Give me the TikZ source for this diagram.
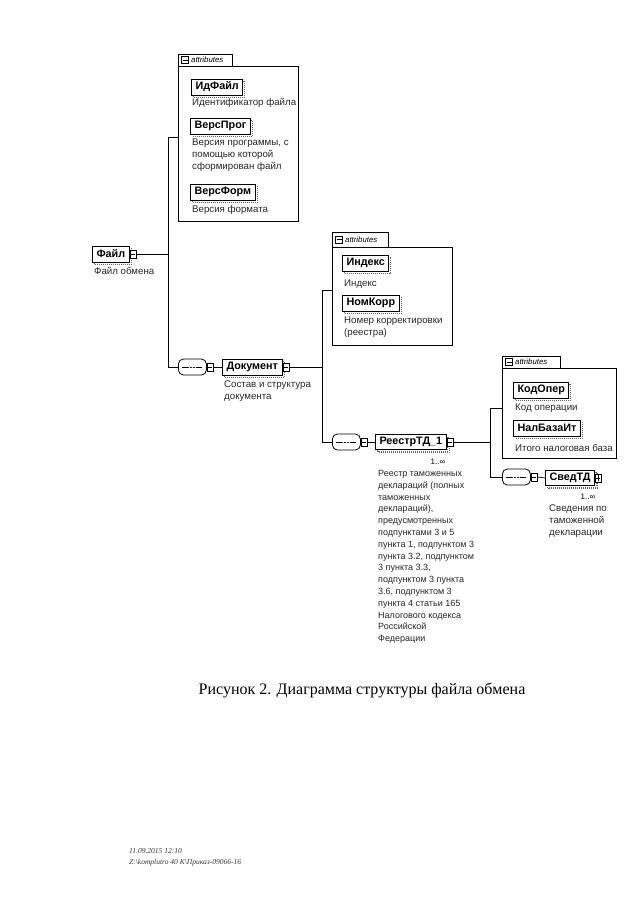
\documentclass[tikz,border=0pt]{standalone}
\usepackage{fontspec}
\setmainfont{Liberation Serif}
\setsansfont{Liberation Sans}
\usetikzlibrary{shadows}
\tikzset{
  lbl/.style={font=\sffamily\fontsize{9.7}{11.8}\selectfont, inner sep=0pt, anchor=west, align=left, text=black!85},
  elem/.style={draw, line width=1pt, fill=white, font=\sffamily\bfseries\fontsize{10.8}{12}\selectfont,
    inner xsep=4pt, inner ysep=0pt, minimum height=16pt, anchor=west,
    copy shadow={shadow xshift=2pt, shadow yshift=-2pt, draw=black!60, densely dotted, fill=white}},
  multielem/.style={draw, line width=1pt, fill=white, font=\sffamily\bfseries\fontsize{10.8}{12}\selectfont,
    inner xsep=4pt, inner ysep=0pt, minimum height=15pt, anchor=west,
    double copy shadow={shadow xshift=1.5pt, shadow yshift=-1.5pt, draw=black!60, densely dotted, fill=white}},
  conn/.style={draw, line width=0.6pt, fill=white, minimum width=6pt, minimum height=8pt, inner sep=0pt, anchor=west,
    path picture={\draw ([xshift=1pt]path picture bounding box.west) -- ([xshift=-1pt]path picture bounding box.east);}},
  plusconn/.style={conn, path picture={\draw ([xshift=1pt]path picture bounding box.west) -- ([xshift=-1pt]path picture bounding box.east);
    \draw ([yshift=-1pt]path picture bounding box.north) -- ([yshift=1pt]path picture bounding box.south);}},
  seqbox/.style={draw, line width=0.8pt, rounded corners=5pt, minimum width=28pt, minimum height=16pt, anchor=west,
    fill=white, inner sep=0pt,
    path picture={\draw[line width=0.6pt] ([xshift=4pt]path picture bounding box.west) -- ([xshift=-4pt]path picture bounding box.east);
      \foreach \d in {-3,0,3} \fill ([xshift=\d pt]path picture bounding box.center) circle (0.9pt);}},
  attrbox/.style={draw, line width=0.6pt, anchor=north west, inner sep=0pt},
  attrtab/.style={line width=0.6pt},
  attricon/.style={draw, line width=0.5pt, minimum width=7pt, minimum height=7pt, inner sep=0pt,
    path picture={\draw ([xshift=1pt]path picture bounding box.west) -- ([xshift=-1pt]path picture bounding box.east);}},
  attrtext/.style={font=\sffamily\itshape\fontsize{7.8}{9}\selectfont, inner sep=0pt, anchor=west},
  mult/.style={font=\sffamily\fontsize{8}{9}\selectfont, inner sep=0pt},
  line/.style={line width=0.7pt},
}
\begin{document}
\begin{tikzpicture}[x=1pt, y=-1pt]
\useasboundingbox (0,0) rectangle (640,905);

% ---------- Attributes group 1
\node[attrbox, minimum width=120pt, minimum height=155pt] (attr1) at (178,66) {};
\draw[attrtab] (attr1.north west) -- ++(0,-12) -- ++(54,0) -- ++(0,12);
\node[attricon] (ai1) at (185,60) {};
\node[attrtext] (at1) at (191,60) {attributes};
\node[elem] (idf) at (191,87) {ИдФайл};
\node[lbl] (idft) at (192,103) {Идентификатор файла};
\node[elem] (vpr) at (190,126) {ВерсПрог};
\node[lbl, anchor=north west] (vprt) at (192,139) {Версия программы, с\\помощью которой\\сформирован файл};
\node[elem] (vfo) at (190,192) {ВерсФорм};
\node[lbl] (vfot) at (192,210) {Версия формата};

% ---------- Файл
\node[elem] (file) at (92,254) {Файл};
\node[conn] (filec) at (file.east) {};
\node[lbl] (filet) at (94,271) {Файл обмена};
\coordinate (b1top) at (168,137);
\coordinate (b1mid) at (168,254);
\coordinate (b1bot) at (168,367);
\draw[line] (filec.east) -- (b1mid);
\draw[line] (b1top) -- (b1bot);
\draw[line] (b1top) -- (b1top -| attr1.west);

% ---------- Документ
\node[seqbox] (seq1) at (178,367) {};
\node[conn] (seq1c) at (seq1.east) {};
\draw[line] (b1bot) -- (seq1.west);
\node[elem] (doc) at (222,367) {Документ};
\node[conn] (docc) at (doc.east) {};
\draw[line] (seq1c.east) -- (doc.west);
\node[lbl, anchor=north west] (doct) at (224,381) {Состав и структура\\документа};

\coordinate (b2top) at (322,290);
\coordinate (b2mid) at (322,367);
\coordinate (b2bot) at (322,442);
\draw[line] (docc.east) -- (b2mid);
\draw[line] (b2top) -- (b2bot);

% ---------- Attributes group 2
\node[attrbox, minimum width=120pt, minimum height=98pt] (attr2) at (332,247) {};
\draw[attrtab] (attr2.north west) -- ++(0,-15) -- ++(56,0) -- ++(0,15);
\node[attricon] (ai2) at (339,239.5) {};
\node[attrtext] (at2) at (345,239.5) {attributes};
\draw[line] (b2top) -- (b2top -| attr2.west);
\node[elem] (idx) at (342,263) {Индекс};
\node[lbl] (idxt) at (344,284) {Индекс};
\node[elem] (nkr) at (342,303) {НомКорр};
\node[lbl, anchor=north west] (nkrt) at (344,317) {Номер корректировки\\(реестра)};

% ---------- РеестрТД_1
\node[seqbox] (seq2) at (332,442) {};
\node[conn] (seq2c) at (seq2.east) {};
\draw[line] (b2bot) -- (seq2.west);
\node[multielem] (reestr) at (375,442) {РеестрТД\_1};
\node[conn] (reestrc) at (reestr.east) {};
\draw[line] (seq2c.east) -- (reestr.west);
\node[mult] (reestrm) at (438,462) {1..∞};
\node[lbl, anchor=north west, font=\sffamily\fontsize{9}{11.8}\selectfont] (reestrt) at (378,470) {Реестр таможенных\\деклараций (полных\\таможенных\\деклараций),\\предусмотренных\\подпунктами 3 и 5\\пункта 1, подпунктом 3\\пункта 3.2, подпунктом\\3 пункта 3.3,\\подпунктом 3 пункта\\3.6, подпунктом 3\\пункта 4 статьи 165\\Налогового кодекса\\Российской\\Федерации};

\coordinate (b3top) at (490,408);
\coordinate (b3mid) at (490,442);
\coordinate (b3bot) at (490,477);
\draw[line] (reestrc.east) -- (b3mid);
\draw[line] (b3top) -- (b3bot);

% ---------- Attributes group 3
\node[attrbox, minimum width=114pt, minimum height=90pt] (attr3) at (502,368) {};
\draw[attrtab] (attr3.north west) -- ++(0,-12) -- ++(58,0) -- ++(0,12);
\node[attricon] (ai3) at (509,362) {};
\node[attrtext] (at3) at (515,362) {attributes};
\draw[line] (b3top) -- (b3top -| attr3.west);
\node[elem] (kop) at (513,390) {КодОпер};
\node[lbl] (kopt) at (515,408) {Код операции};
\node[elem] (nbi) at (513,428) {НалБазаИт};
\node[lbl] (nbit) at (515,448) {Итого налоговая база};

% ---------- СведТД
\node[seqbox] (seq3) at (502,477) {};
\node[conn] (seq3c) at (seq3.east) {};
\draw[line] (b3bot) -- (seq3.west);
\node[multielem] (sved) at (545,478) {СведТД};
\node[plusconn] (svedc) at (sved.east) {};
\draw[line] (seq3c.east) -- (sved.west);
\node[mult] (svedm) at (588,497) {1..∞};
\node[lbl, anchor=north west] (svedt) at (549,505) {Сведения по\\таможенной\\декларации};

% ---------- Caption and footer
\node[font=\fontsize{16}{19}\selectfont, inner sep=0pt] (cap) at (362,690) {Рисунок 2. Диаграмма структуры файла обмена};
\node[font=\itshape\fontsize{7.5}{11}\selectfont, inner sep=0pt, anchor=north west, align=left, text=black!80] (foot) at (129,848) {11.09.2015 12:10\\Z:\textbackslash komplutro 40 K\textbackslash Приказ-09066-16};
\end{tikzpicture}
\end{document}
